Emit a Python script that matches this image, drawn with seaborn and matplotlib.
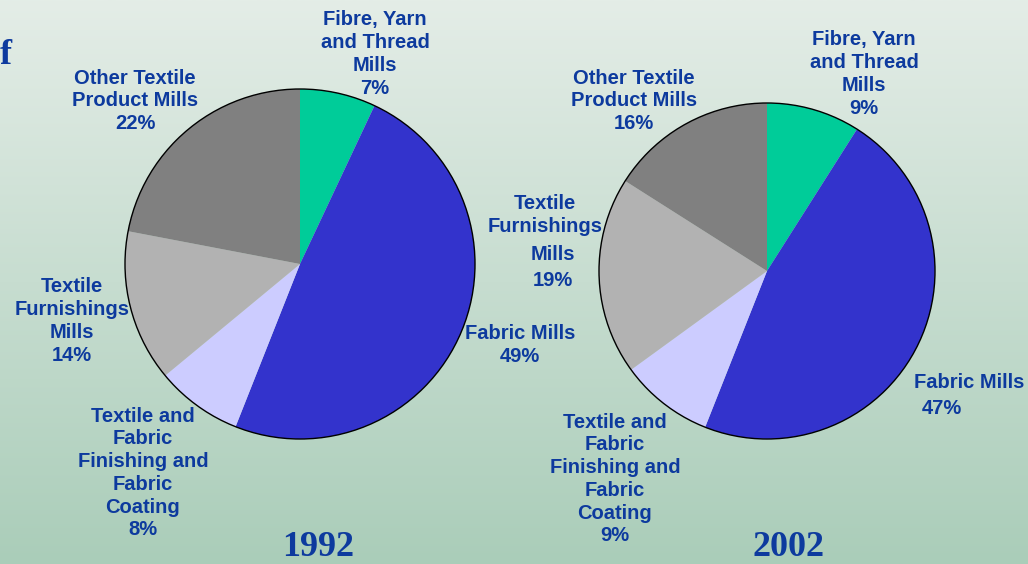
import numpy as np
import matplotlib
matplotlib.use("Agg")
import matplotlib.pyplot as plt
import seaborn as sns
from matplotlib.colors import LinearSegmentedColormap


categories = ["Fibre, Yarn and Thread Mills", "Fabric Mills",
              "Textile and Fabric Finishing and Fabric Coating",
              "Textile Furnishings Mills", "Other Textile Product Mills"]
share_1992 = [7, 49, 8, 14, 22]
share_2002 = [9, 47, 9, 19, 16]
years = ["1992", "2002"]

slice_colors = ["#00CC99", "#3333CC", "#CCCCFF", "#B2B2B2", "#808080"]
TEXT_BLUE = "#0D3A9E"
W, H = 1028, 564


def draw_pie(ax, values, center, radius):
    # pixel coords with y flipped
    cx, cy = center[0], H - center[1]
    ax.pie(values, colors=slice_colors, startangle=90, counterclock=False,
           center=(cx, cy), radius=radius, frame=True,
           wedgeprops=dict(linewidth=0))
    ax.add_patch(plt.Circle((cx, cy), radius, fill=False,
                            edgecolor="black", linewidth=1.0))


def label(ax, x, y, s, **kw):
    ax.text(x, H - y, s, ha="center", va="center", color=TEXT_BLUE,
            fontsize=14.5, fontweight="bold", family="Liberation Sans",
            linespacing=1.25, **kw)


sns.set_style("white")

fig = plt.figure(figsize=(W / 100, H / 100), dpi=100)
ax = fig.add_axes([0, 0, 1, 1])

# background gradient
bg = LinearSegmentedColormap.from_list("bg", ["#AACDB9", "#E4EDE7"])
grad = np.linspace(0, 1, 256).reshape(-1, 1)
ax.imshow(grad, cmap=bg, extent=[0, W, 0, H], aspect="auto", origin="lower", zorder=0)

draw_pie(ax, share_1992, (300, 264), 175)
draw_pie(ax, share_2002, (767, 271), 168)

ax.set_xlim(0, W)
ax.set_ylim(0, H)
ax.set_aspect("auto")
ax.axis("off")

# 1992 labels
label(ax, 375, 54, "Fibre, Yarn\nand Thread\nMills\n%d%%" % share_1992[0])
label(ax, 520, 345, "Fabric Mills\n%d%%" % share_1992[1])
label(ax, 143, 473, "Textile and\nFabric\nFinishing and\nFabric\nCoating\n%d%%" % share_1992[2])
label(ax, 72, 321, "Textile\nFurnishings\nMills\n%d%%" % share_1992[3])
label(ax, 135, 101, "Other Textile\nProduct Mills\n%d%%" % share_1992[4])

# 2002 labels
label(ax, 864, 74, "Fibre, Yarn\nand Thread\nMills\n%d%%" % share_2002[0])
label(ax, 969, 383, "Fabric Mills")
label(ax, 942, 408, "%d%%" % share_2002[1])
label(ax, 615, 479, "Textile and\nFabric\nFinishing and\nFabric\nCoating\n%d%%" % share_2002[2])
label(ax, 545, 215, "Textile\nFurnishings")
label(ax, 553, 254, "Mills")
label(ax, 553, 280, "%d%%" % share_2002[3])
label(ax, 634, 101, "Other Textile\nProduct Mills\n%d%%" % share_2002[4])

# year captions
for x, yr in zip([318, 788], years):
    ax.text(x, H - 548, yr, ha="center", va="center", color=TEXT_BLUE,
            fontsize=26, fontweight="bold", family="Liberation Serif")

# title fragment at the left edge
ax.text(0, H - 55, "f", ha="left", va="center", color=TEXT_BLUE,
        fontsize=26, fontweight="bold", family="Liberation Serif")

fig.savefig("out.png", dpi=100)
